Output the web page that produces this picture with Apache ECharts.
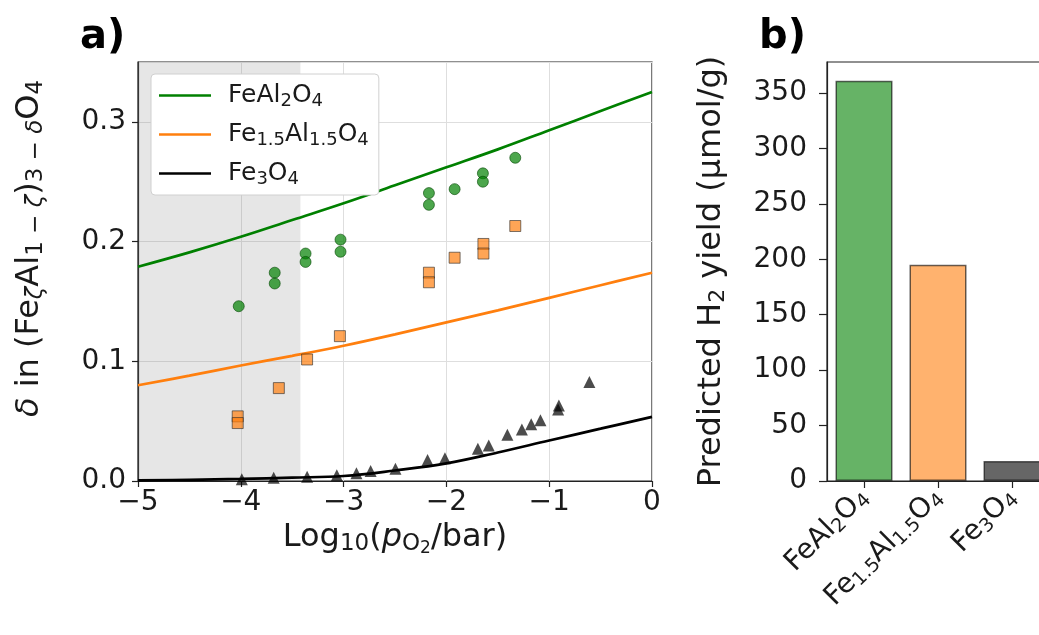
<!DOCTYPE html>
<html>
<head>
<meta charset="utf-8">
<script src="https://cdn.jsdelivr.net/npm/echarts@6/dist/echarts.min.js"></script>
<style>html,body{margin:0;padding:0;background:#fff}#c{width:1039px;height:635px}</style>
</head>
<body>
<div id="c"></div>
<script>
// ---- data ----
const xTicks = [-5, -4, -3, -2, -1, 0];
const yTicks = [0, 0.1, 0.2, 0.3];
const barTicks = [0, 50, 100, 150, 200, 250, 300, 350];
const shadeRange = [-5, -3.42];

const lineX = [-5, -4.5, -4, -3.5, -3, -2.5, -2, -1.5, -1, -0.5, 0];
const lineFeAl2O4 = [0.179, 0.191, 0.204, 0.218, 0.232, 0.247, 0.262, 0.277, 0.293, 0.309, 0.325];
const lineFe15Al15O4 = [0.080, 0.088, 0.0965, 0.1045, 0.113, 0.1225, 0.1325, 0.1425, 0.153, 0.1635, 0.174];
const lineFe3O4 = [0.0005, 0.001, 0.0017, 0.0028, 0.0042, 0.0088, 0.0147, 0.0238, 0.0338, 0.0437, 0.0536];

const ptsFeAl2O4X = [-4.02, -3.67, -3.67, -3.37, -3.37, -3.03, -3.03, -2.17, -2.17, -1.92, -1.645, -1.645, -1.33];
const ptsFeAl2O4Y = [0.146, 0.174, 0.165, 0.190, 0.183, 0.2016, 0.1915, 0.2405, 0.2307, 0.2438, 0.257, 0.250, 0.270];
const ptsFe15X = [-4.03, -4.03, -3.63, -3.355, -3.036, -2.17, -2.17, -1.92, -1.64, -1.64, -1.33];
const ptsFe15Y = [0.054, 0.0484, 0.0776, 0.1015, 0.121, 0.174, 0.166, 0.1865, 0.198, 0.190, 0.213];
const ptsFe3O4X = [-3.99, -3.68, -3.355, -3.066, -2.875, -2.737, -2.496, -2.183, -2.014, -1.694, -1.588, -1.407, -1.266, -1.175, -1.085, -0.913, -0.906, -0.609];
const ptsFe3O4Y = [0.0014, 0.0028, 0.0036, 0.0047, 0.0064, 0.0083, 0.0103, 0.0175, 0.0189, 0.027, 0.0297, 0.0386, 0.043, 0.0475, 0.0508, 0.0597, 0.063, 0.0826];

const barCategories = ['FeAl2O4', 'Fe1.5Al1.5O4', 'Fe3O4'];
const barValues = [361, 195, 18];

// ---- helpers ----
const FONT = 'DejaVu Sans';
const TXT = '#1a1a1a';
const zip = (xs, ys) => xs.map((x, i) => [x, ys[i]]);
const near = (v, arr) => arr.some(t => Math.abs(t - v) < 1e-9);
const richLabel = {
  'FeAl2O4': '{n|FeAl}{s|2}{n|O}{s|4}',
  'Fe1.5Al1.5O4': '{n|Fe}{s|1.5}{n|Al}{s|1.5}{n|O}{s|4}',
  'Fe3O4': '{n|Fe}{s|3}{n|O}{s|4}'
};
function richSet(size, subSize, shift) {
  return {
    n: {fontFamily: FONT, fontSize: size, color: TXT, verticalAlign: 'middle'},
    i: {fontFamily: FONT, fontSize: size, color: TXT, fontStyle: 'italic', verticalAlign: 'middle'},
    s: {fontFamily: FONT, fontSize: subSize, color: TXT, verticalAlign: 'middle', padding: [shift, 0, 0, 0]},
    si: {fontFamily: FONT, fontSize: subSize, color: TXT, fontStyle: 'italic', verticalAlign: 'middle', padding: [shift, 0, 0, 0]},
    ss: {fontFamily: FONT, fontSize: Math.round(subSize * 0.72), color: TXT, verticalAlign: 'middle', padding: [shift * 1.7, 0, 0, 0]}
  };
}
const lineColors = ['#008000', '#ff7f0e', '#000000'];
const barColors = ['#66b366', '#ffb26e', '#666666'];
const fmtX = v => (near(v, xTicks) ? (v < 0 ? '\u2212' + Math.abs(v) : String(v)) : '');
const fmtY = v => (near(v, yTicks) ? v.toFixed(1) : '');
const fmtBar = v => (near(v, barTicks) ? String(v) : '');

const chart = echarts.init(document.getElementById('c'), null, {renderer: 'canvas'});
const option = {
  animation: false,
  backgroundColor: '#ffffff',
  title: [
    {text: 'a)', left: 75, top: 13, textStyle: {fontFamily: FONT, fontSize: 40, fontWeight: 'bold', color: '#000'}},
    {text: 'b)', left: 754, top: 13, textStyle: {fontFamily: FONT, fontSize: 40, fontWeight: 'bold', color: '#000'}}
  ],
  legend: {
    show: true,
    orient: 'vertical',
    left: 151, top: 74,
    padding: [9, 10, 7, 8],
    itemGap: 12,
    itemWidth: 52, itemHeight: 2.5,
    backgroundColor: '#ffffff',
    borderColor: '#d0d0d0', borderWidth: 1, borderRadius: 4,
    data: [
      {name: 'FeAl2O4', icon: 'rect'},
      {name: 'Fe1.5Al1.5O4', icon: 'rect'},
      {name: 'Fe3O4', icon: 'rect'}
    ],
    formatter: name => richLabel[name],
    textStyle: {padding: [0, 0, 0, 12], rich: richSet(25, 18, 11)}
  },
  grid: [
    {left: 138, top: 62, width: 514, height: 419, show: true, borderColor: '#222', borderWidth: 1.2, containLabel: false, outerBoundsMode: 'none'},
    {left: 827, top: 62, width: 222, height: 419, show: true, borderColor: '#222', borderWidth: 1.2, containLabel: false, outerBoundsMode: 'none'}
  ],
  xAxis: [
    {
      type: 'value', gridIndex: 0, position: 'bottom', min: -5, max: 0, interval: 1,
      axisLine: {show: true, lineStyle: {color: '#222', width: 1.2}},
      axisTick: {show: true, inside: false, length: 6, lineStyle: {color: '#222', width: 1.2}},
      axisLabel: {fontFamily: FONT, fontSize: 28, color: TXT, margin: 8, formatter: fmtX},
      splitLine: {show: true, lineStyle: {color: '#dedede', width: 1}},
      name: '{n|Log}{s|10}{n|(}{i|p}{s|O}{ss|2}{n|/bar)}',
      nameLocation: 'middle', nameGap: 22,
      nameTextStyle: {rich: richSet(32, 23, 13)}
    },
    {
      type: 'category', gridIndex: 1, position: 'bottom', data: barCategories,
      axisLine: {show: true, lineStyle: {color: '#222', width: 1.2}},
      axisTick: {show: true, inside: false, alignWithLabel: true, length: 7, lineStyle: {color: '#222', width: 1.2}},
      axisLabel: {rotate: 45, margin: 12, interval: 0, formatter: v => richLabel[v], rich: richSet(28, 19, 12)},
      splitLine: {show: false}
    }
  ],
  yAxis: [
    {
      type: 'value', gridIndex: 0, position: 'left', min: 0, max: 0.35, interval: 0.1,
      axisLine: {show: true, onZero: false, lineStyle: {color: '#222', width: 1.2}},
      axisTick: {show: true, inside: false, length: 6, lineStyle: {color: '#222', width: 1.2}},
      axisLabel: {fontFamily: FONT, fontSize: 28, color: TXT, margin: 12, showMaxLabel: false, formatter: fmtY},
      splitLine: {show: true, lineStyle: {color: '#dedede', width: 1}},
      name: '{i|δ}{n| in (Fe}{si|ζ}{n|Al}{s|1 − }{si|ζ}{n|)}{s|3 − }{si|δ}{n|O}{s|4}',
      nameLocation: 'middle', nameRotate: 90, nameGap: 90,
      nameTextStyle: {padding: [0, 0, 0, 46], rich: richSet(32, 23, 13)}
    },
    {
      type: 'value', gridIndex: 1, position: 'left', min: 0, max: 378, interval: 50,
      axisLine: {show: true, onZero: false, lineStyle: {color: '#222', width: 1.2}},
      axisTick: {show: true, inside: false, length: 8, lineStyle: {color: '#222', width: 1.2}},
      axisLabel: {fontFamily: FONT, fontSize: 28, color: TXT, margin: 20, showMaxLabel: false, formatter: fmtBar},
      splitLine: {show: false},
      name: '{n|Predicted H}{s|2}{n| yield (μmol/g)}',
      nameLocation: 'middle', nameRotate: 90, nameGap: 98,
      nameTextStyle: {rich: richSet(32, 22, 13)}
    }
  ],
  series: [
    {
      name: 'shade', type: 'line', xAxisIndex: 0, yAxisIndex: 0, data: [], silent: true,
      markArea: {silent: true, itemStyle: {color: 'rgba(128,128,128,0.2)'}, data: [[{xAxis: shadeRange[0]}, {xAxis: shadeRange[1]}]]}
    },
    {name: 'FeAl2O4', type: 'line', xAxisIndex: 0, yAxisIndex: 0, data: zip(lineX, lineFeAl2O4), smooth: 0.4, showSymbol: false, lineStyle: {color: lineColors[0], width: 2.7}, itemStyle: {color: lineColors[0]}, z: 3},
    {name: 'Fe1.5Al1.5O4', type: 'line', xAxisIndex: 0, yAxisIndex: 0, data: zip(lineX, lineFe15Al15O4), smooth: 0.4, showSymbol: false, lineStyle: {color: lineColors[1], width: 2.7}, itemStyle: {color: lineColors[1]}, z: 3},
    {name: 'Fe3O4', type: 'line', xAxisIndex: 0, yAxisIndex: 0, data: zip(lineX, lineFe3O4), smooth: 0.4, showSymbol: false, lineStyle: {color: lineColors[2], width: 2.7}, itemStyle: {color: lineColors[2]}, z: 3},
    {name: 'pts1', type: 'scatter', xAxisIndex: 0, yAxisIndex: 0, data: zip(ptsFeAl2O4X, ptsFeAl2O4Y), symbol: 'circle', symbolSize: 11, itemStyle: {color: 'rgba(0,128,0,0.7)', borderColor: 'rgba(0,70,0,0.6)', borderWidth: 1, opacity: 1}, z: 4},
    {name: 'pts2', type: 'scatter', xAxisIndex: 0, yAxisIndex: 0, data: zip(ptsFe15X, ptsFe15Y), symbol: 'rect', symbolSize: 11, itemStyle: {color: 'rgba(255,127,14,0.7)', borderColor: 'rgba(40,40,40,0.6)', borderWidth: 1, opacity: 1}, z: 4},
    {name: 'pts3', type: 'scatter', xAxisIndex: 0, yAxisIndex: 0, data: zip(ptsFe3O4X, ptsFe3O4Y), symbol: 'triangle', symbolSize: 12, itemStyle: {color: 'rgba(0,0,0,0.7)', opacity: 1}, z: 4},
    {
      name: 'bars', type: 'bar', xAxisIndex: 1, yAxisIndex: 1, barWidth: 57,
      data: barValues.map((v, i) => ({value: v, itemStyle: {color: barColors[i], borderColor: 'rgba(0,0,0,0.6)', borderWidth: 1.5}}))
    }
  ]
};
chart.setOption(option);
</script>
</body>
</html>
